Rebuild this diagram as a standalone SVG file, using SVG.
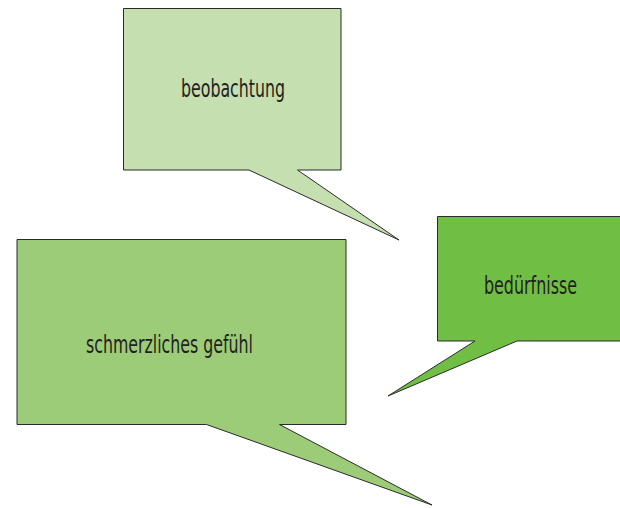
<svg xmlns="http://www.w3.org/2000/svg" width="620" height="508" viewBox="0 0 620 508">
<style>
.b{stroke:#2b2b2b;stroke-width:1;stroke-linejoin:miter;stroke-miterlimit:30}
.t{font-family:"DejaVu Sans Condensed","Liberation Sans Narrow","Liberation Sans",sans-serif;font-stretch:condensed;font-size:24px;fill:#231f20;text-anchor:middle}
</style>
<rect width="620" height="508" fill="#ffffff"/>
<g id="connectors"/>
<g id="beobachtung">
<path class="b" fill="#c6dfb0" d="M123.5,8.5 H341 V170 H297.5 L399,240 L249,170 H123.5 Z"/>
<text class="t" x="233" y="97" textLength="104" lengthAdjust="spacingAndGlyphs">beobachtung</text>
</g>
<g id="beduerfnisse">
<path class="b" fill="#70bf44" d="M437.5,216.5 H621 V341 H517 L388,396 L475,341 H437.5 Z"/>
<text class="t" x="530.5" y="294" textLength="93" lengthAdjust="spacingAndGlyphs">bedürfnisse</text>
</g>
<g id="schmerzliches">
<path class="b" fill="#9ccc78" d="M17,239.5 H346 V424.5 H279.5 L432,505 L206.5,424.5 H17 Z"/>
<text class="t" x="169.5" y="353" textLength="167" lengthAdjust="spacingAndGlyphs">schmerzliches gefühl</text>
</g>
</svg>
